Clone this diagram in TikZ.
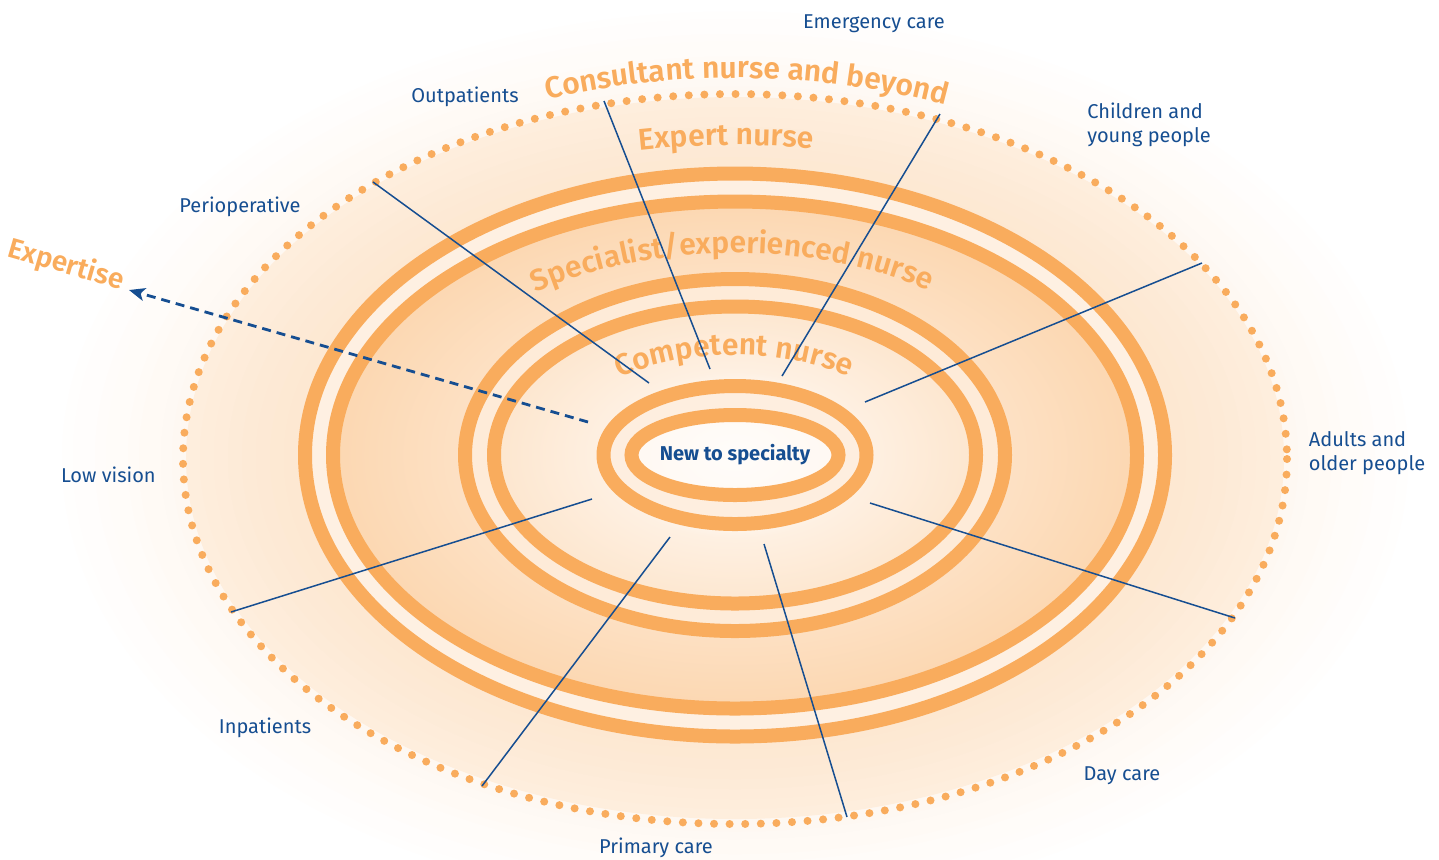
\documentclass[tikz,border=0pt]{standalone}
\usepackage{fontspec}
\setmainfont{Fira Sans}
\newfontfamily\semibold{Fira Sans SemiBold}
\usetikzlibrary{arrows.meta,decorations.text}
\definecolor{ringorange}{RGB}{249,172,93}
\definecolor{navy}{RGB}{22,78,145}
\pgfdeclareradialshading{core}{\pgfpoint{0bp}{0bp}}{color(0bp)=(ringorange!3); color(6.4bp)=(ringorange!8); color(8.2bp)=(ringorange!18); color(15bp)=(ringorange!30); color(16.8bp)=(ringorange!36); color(25bp)=(ringorange!48); color(50bp)=(ringorange!48)}
\newcommand\levelfont{\semibold\fontsize{15}{18}\selectfont\color{ringorange}}
\begin{document}
\begin{tikzpicture}[x=0.5pt,y=-0.5pt,
    ringline/.style={draw=ringorange,line width=7pt},
    spoke/.style={draw=navy,line width=0.75pt},
    place/.style={text=navy,font=\fontsize{10}{12}\selectfont,align=left,inner sep=0pt},
    level/.style={decorate,decoration={text along path,text align=center,text={|\levelfont|#1}}}]
    \useasboundingbox (0,0) rectangle (1439,859);
    \foreach \k[evaluate=\k as \c using int(9-0.7*\k)] in {12,...,1}
        \fill[ringorange!\c] (735,459) ellipse [x radius={552+11*\k},y radius={365+7.5*\k}];
    \foreach \k[evaluate=\k as \c using int(21+\k)] in {0,...,8}
        \fill[ringorange!\c] (735,458) ellipse [x radius={549-14*\k},y radius={361-10*\k}];
    \shade[shading=core] (735,455) ellipse [x radius=402,y radius=253.5];
    \foreach \rx/\ry/\c in {416/267.5/18,255.5/162/24,117.5/54.5/20}
        \draw[draw=ringorange!\c,line width=14pt] (735,455) ellipse [x radius=\rx,y radius=\ry];
    \foreach \rx/\ry in {430/281.5,402/253.5,270/176,241/148.5,131.5/69,103.5/40}
        \draw[ringline] (735,455) ellipse [x radius=\rx,y radius=\ry];
    \draw[ringorange,line width=4pt,line cap=round,dash pattern=on 0pt off 7.8pt] (735,459) ellipse [x radius=552,y radius=365];
    \path[level={Consultant nurse and beyond}] (735,459) ++(221.5:568 and 381) arc (221.5:321.5:568 and 381);
    \path[level={Expert nurse}] (735,459) ++(228.9:530 and 314) arc (228.9:308.9:530 and 314);
    \path[level={Specialist/experienced nurse}] (735,455) ++(199.3:335 and 202) arc (199.3:339.3:335 and 202);
    \path[level={Competent nurse}] (735,456) ++(194.5:183 and 101) arc (194.5:344.5:183 and 101);
    \node (core) at (735,455) {\bfseries\fontsize{10}{12}\selectfont\color{navy}New to specialty};
    \foreach \ax/\ay/\bx/\by[count=\i] in {
        649/383/373/182,
        710/369/604/101,
        782/376/940/114,
        865/402/1202/263,
        870/503/1235/618,
        764/544/847/817,
        670/537/482/786,
        592/499/231/612
    }{
        \coordinate (in\i) at (\ax,\ay);
        \coordinate (out\i) at (\bx,\by);
        \draw[spoke] (in\i) -- (out\i);
    }
    \foreach \x/\y/\t[count=\i] in {
        240/207/Perioperative,
        465/97/Outpatients,
        874/24/Emergency care,
        1149/125/{Children and\\young people},
        1367/453/{Adults and\\older people},
        1122/776/Day care,
        656/848/Primary care,
        265/728/Inpatients,
        111/475/Low vision
    }
        \node[place] (area\i) at (\x,\y) {\t};
    \coordinate (start) at (588,422);
    \coordinate (tip) at (129,290);
    \draw[navy,line width=1.4pt,dash pattern=on 4.5pt off 3pt,-{Stealth[length=8pt,width=6.5pt,inset=2pt]}] (start) -- (tip);
    \node[rotate=-16,inner sep=0pt] (expertise) at (66,265) {\semibold\fontsize{14}{16}\selectfont\color{ringorange}Expertise};
\end{tikzpicture}
\end{document}
